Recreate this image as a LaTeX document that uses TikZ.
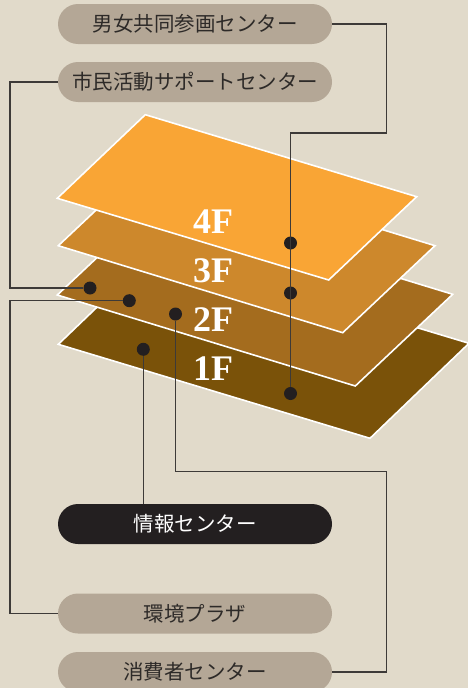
\documentclass[tikz,border=0pt]{standalone}
\usepackage{fontspec}
\newfontfamily\jpfont{Noto Sans CJK JP}
\newfontfamily\flrfont{Liberation Serif}
\definecolor{bg}{HTML}{E1DACA}
\definecolor{pillc}{HTML}{B4A796}
\definecolor{pilltxt}{HTML}{2D2A28}
\definecolor{darkc}{HTML}{231F20}
\definecolor{linec}{HTML}{3D3A38}
\definecolor{fA}{HTML}{F9A535}
\definecolor{fB}{HTML}{CD882C}
\definecolor{fC}{HTML}{A46C1E}
\definecolor{fD}{HTML}{7A5209}
\tikzset{
  pill/.style={fill=pillc, text=pilltxt, rounded corners=20pt, minimum width=274pt, minimum height=40pt, inner sep=0pt, font=\jpfont\fontsize{20.5}{22}\selectfont},
  darkpill/.style={pill, fill=darkc, text=white},
  floor/.style={draw=white, line width=1.6pt, line join=miter},
  flabel/.style={text=white, anchor=base, inner sep=0pt, font=\flrfont\bfseries\fontsize{36}{36}\selectfont},
  dot/.style={circle, fill=darkc, minimum size=13pt, inner sep=0pt},
  conn/.style={draw=linec, line width=1.1pt}
}
\begin{document}
\begin{tikzpicture}[x=1pt, y=-1pt]
\useasboundingbox (0,0) rectangle (468,688);
\fill[bg] (0,0) rectangle (468,688);
% floors
\filldraw[floor, fill=fD] (58.3,344.3) -- (157.3,249.3) -- (469,343.3) -- (370,438.3) -- cycle;
\filldraw[floor, fill=fC] (57.3,295) -- (154.7,203.3) -- (452.7,294.3) -- (355.3,386) -- cycle;
\filldraw[floor, fill=fB] (58.3,245.7) -- (150.6,158.7) -- (435,245.7) -- (342.7,332.7) -- cycle;
\filldraw[floor, fill=fA] (57.3,198.3) -- (145.3,114.7) -- (416.7,196.7) -- (328.7,280) -- cycle;
% floor labels
\node[flabel] (l4) at (213,233) {4F};
\node[flabel] (l3) at (213,282) {3F};
\node[flabel] (l2) at (213,331) {2F};
\node[flabel] (l1) at (213,380) {1F};
% pills
\node[pill] (p1) at (195,24) {男女共同参画センター};
\node[pill] (p2) at (195,82) {市民活動サポートセンター};
\node[darkpill] (p3) at (195,524) {情報センター};
\node[pill] (p4) at (195,613.5) {環境プラザ};
\node[pill] (p5) at (195,672) {消費者センター};
% bend points
\coordinate (k1) at (386.5,133);
\coordinate (k2) at (10,288);
\coordinate (k3) at (10,300.7);
\coordinate (k4) at (386.5,471.7);
% dots
\node[dot] (dR4) at (290.5,243) {};
\node[dot] (dR3) at (290.5,293) {};
\node[dot] (dR1) at (290.5,393.5) {};
\node[dot] (dA) at (90,288) {};
\node[dot] (dB) at (129.3,300.7) {};
\node[dot] (dC) at (175.5,314) {};
\node[dot] (dD) at (143.3,349.3) {};
% connectors
\draw[conn] (p1.east) -| (k1) -| (dR1);
\draw[conn] (p2.west) -| (k2) -- (dA);
\draw[conn] (p4.west) -| (k3) -- (dB);
\draw[conn] (dC) |- (k4) |- (p5.east);
\draw[conn] (dD) -- (dD |- p3.north);
\end{tikzpicture}
\end{document}
